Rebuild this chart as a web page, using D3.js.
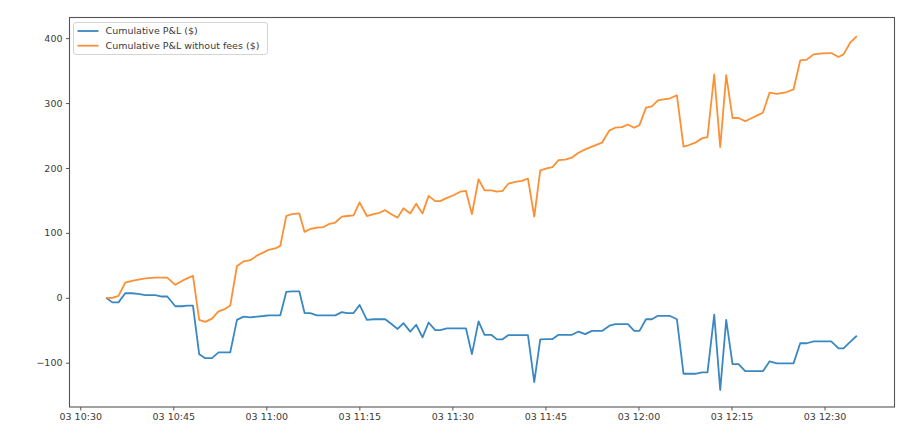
<!DOCTYPE html>
<html>
<head>
<meta charset="utf-8">
<script src="https://cdn.jsdelivr.net/npm/d3@7"></script>
<style>
  html, body { margin: 0; padding: 0; background: #fff; }
  svg { display: block; font-family: "DejaVu Sans", sans-serif; }
</style>
</head>
<body>
<svg id="chart" width="924" height="438"></svg>
<script>
// ---- data ----
const day = "2021-06-03";
const times = [
  "10:34:11","10:35:10","10:36:10","10:37:15","10:38:20","10:39:21","10:40:29","10:42:05","10:43:10","10:44:02",
  "10:45:19","10:46:24","10:47:15","10:48:10","10:49:11","10:50:09","10:51:14","10:52:18","10:53:23","10:54:11",
  "10:55:16","10:56:20","10:57:25","10:58:29","10:59:33","11:00:22","11:01:26","11:02:15","11:03:13","11:04:08",
  "11:05:19","11:06:10","11:07:05","11:08:10","11:09:14","11:10:11","11:11:07","11:12:11","11:13:00","11:14:04",
  "11:15:02","11:16:13","11:17:17","11:18:15","11:19:10","11:20:05","11:21:10","11:22:07","11:23:12","11:24:10",
  "11:25:11","11:26:10","11:27:14","11:28:02","11:29:07","11:30:11","11:31:16","11:32:11","11:33:09","11:34:13",
  "11:35:11","11:36:16","11:37:11","11:38:05","11:39:03","11:40:08","11:41:13","11:42:11","11:43:12","11:44:10",
  "11:45:14","11:46:09","11:47:07","11:48:11","11:49:17","11:50:20","11:51:25","11:52:30","11:54:07","11:55:20",
  "11:56:16","11:57:20","11:58:18","11:59:19","12:00:10","12:01:13","12:02:10","12:03:08","12:04:02","12:05:01",
  "12:06:12","12:07:16","12:08:04","12:09:09","12:10:14","12:11:08","12:12:13","12:13:11","12:14:09","12:15:10",
  "12:16:08","12:17:13","12:18:18","12:19:09","12:20:04","12:21:08","12:22:19","12:23:56","12:25:00","12:26:05",
  "12:27:10","12:28:14","12:29:35","12:31:05","12:32:16","12:33:04","12:34:08","12:35:13"
];
const pnl = [
  0,-7,-7,7,7,6,4,4,2,2,
  -13,-13,-12,-12,-87,-93,-93,-84,-84,-84,
  -34,-29,-30,-29,-28,-27,-27,-27,9,10,
  10,-23.5,-23.5,-27,-27,-27,-27,-22,-23.5,-23.5,
  -11,-34,-33,-33,-33,-39.5,-48,-39,-52,-41.5,
  -61,-38,-49.7,-49.7,-47,-47,-47,-47,-86.7,-36.4,
  -57,-57,-64,-64,-57.4,-57.4,-57.4,-57.4,-130,-64,
  -63.6,-63.6,-57,-57,-57,-52,-56,-51,-51,-43,
  -40.5,-40.5,-40.5,-51,-51,-33,-33,-27.7,-27.7,-27.7,
  -33,-117,-117,-117,-115,-115,-26,-142,-34,-102,
  -102,-113,-113,-113,-113,-98,-101,-101,-101,-70,
  -70,-67,-67,-67,-78,-78,-68,-58.5
];
const pnlNoFees = [
  0,0,3,23.5,26,28,30,31,31,31,
  20,26,30,34,-34,-37,-32,-21,-17,-12,
  49,56,58,65,70,74,76,80,126,129,
  130,101.5,106,108,109,114,116,125,126,127,
  147,126,129,131,135,129,123.5,138,130,145,
  130,157,149,149,154,158,163.5,164.6,129,182.6,
  165.6,165.6,163.5,164.6,176,178.5,180,183.5,125,196.4,
  199.5,201.5,212,213,216,223.5,228.7,233,239,258,
  262,263,267,262,266,293,295,304,305.6,307,
  312,233,235,239,245.6,247.7,344,232,343,277,
  277,272,277,281,285,316,314,317,321,365.6,
  367,375,376.5,377,371,375,393,403
];
const seriesNames = ["Cumulative P&L ($)", "Cumulative P&L without fees ($)"];
const seriesColors = ["#3a88c2", "#fb9034"];
const yTicks = [-100, 0, 100, 200, 300, 400];
const xTickTimes = ["10:30","10:45","11:00","11:15","11:30","11:45","12:00","12:15","12:30"];
const xDomain = ["10:28:16", "12:41:17"];
const yDomain = [-168.2, 431.8];

// ---- chart ----
const parse = d3.timeParse("%Y-%m-%d %H:%M:%S");
const parseHM = d3.timeParse("%Y-%m-%d %H:%M");
const T = times.map(t => parse(day + " " + t));

const mLeft = 69.5, mRight = 894.5, mTop = 17.5, mBottom = 407;
const x = d3.scaleTime()
  .domain(xDomain.map(t => parse(day + " " + t)))
  .range([mLeft, mRight]);
const y = d3.scaleLinear().domain(yDomain).range([mBottom, mTop]);

const svg = d3.select("#chart");

const series = [pnl, pnlNoFees];
const line = d3.line().x(d => x(d[0])).y(d => y(d[1]));

const plot = svg.append("g");
series.forEach((vals, i) => {
  plot.append("path")
    .datum(T.map((t, j) => [t, vals[j]]))
    .attr("fill", "none")
    .attr("stroke", seriesColors[i])
    .attr("stroke-width", 1.8)
    .attr("stroke-linejoin", "round")
    .attr("d", line);
});

// frame
svg.append("rect")
  .attr("x", mLeft).attr("y", mTop)
  .attr("width", mRight - mLeft).attr("height", mBottom - mTop)
  .attr("fill", "none").attr("stroke", "#555").attr("stroke-width", 1.1);

// axes
const xAxis = d3.axisBottom(x)
  .tickValues(xTickTimes.map(t => parseHM(day + " " + t)))
  .tickFormat(d3.timeFormat("%d %H:%M"))
  .tickSize(3.5).tickPadding(3);
const gx = svg.append("g").attr("transform", `translate(0,${mBottom})`).call(xAxis);
gx.select(".domain").remove();

const yAxis = d3.axisLeft(y)
  .tickValues(yTicks)
  .tickFormat(d => d < 0 ? "\u2212" + Math.abs(d) : String(d))
  .tickSize(3.5).tickPadding(3.5);
const gy = svg.append("g").attr("transform", `translate(${mLeft},0)`).call(yAxis);
gy.select(".domain").remove();

[gx, gy].forEach(g => {
  g.selectAll(".tick line").attr("stroke", "#555");
  g.selectAll(".tick text")
    .attr("fill", "#3a3a3a")
    .style("font-family", "'DejaVu Sans', sans-serif")
    .style("font-size", "9.5px");
});

// legend
const lg = svg.append("g").attr("transform", "translate(73.5,22.5)");
lg.append("rect")
  .attr("width", 194).attr("height", 32).attr("rx", 2.5)
  .attr("fill", "#fff").attr("fill-opacity", 0.8)
  .attr("stroke", "#d4d4d4").attr("stroke-width", 1);
seriesNames.forEach((name, i) => {
  const yy = 8.5 + i * 14.7;
  lg.append("line")
    .attr("x1", 4).attr("x2", 25).attr("y1", yy).attr("y2", yy)
    .attr("stroke", seriesColors[i]).attr("stroke-width", 1.8);
  lg.append("text")
    .attr("x", 32).attr("y", yy).attr("dy", "0.35em")
    .attr("fill", "#3a3a3a")
    .style("font-size", "9.5px")
    .text(name);
});
</script>
</body>
</html>
